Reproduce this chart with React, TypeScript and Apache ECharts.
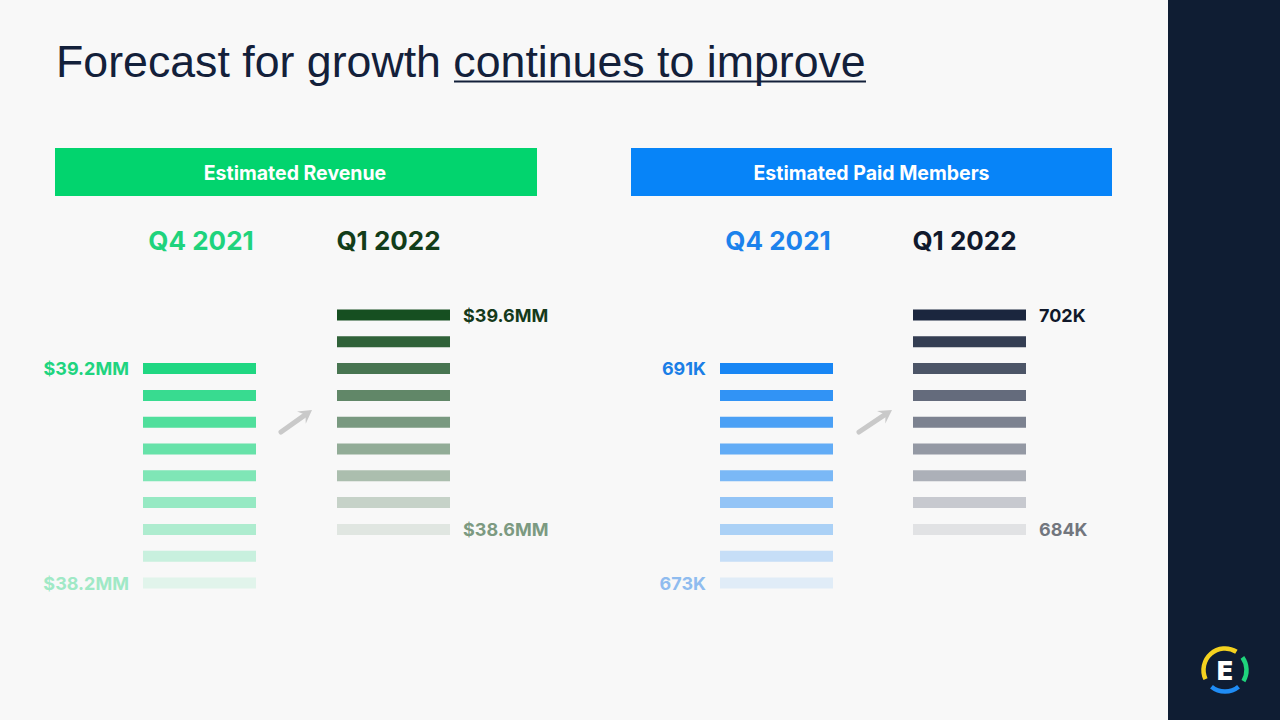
import React, { useEffect, useRef } from "react";
import * as echarts from "echarts";

// ---- data ----
const periods = ["Q4 2021", "Q1 2022"];
// stacked level rows (row index on the level axis, top bar first)
const q4Levels = [8, 7, 6, 5, 4, 3, 2, 1, 0];
const q1Levels = [10, 9, 8, 7, 6, 5, 4, 3, 2];
const shadeOpacity = [1, 0.89, 0.78, 0.67, 0.56, 0.45, 0.34, 0.22, 0.1];
const revenueHigh = [39.2, 39.6]; // $MM
const revenueLow = [38.2, 38.6]; // $MM
const membersHigh = [691, 702]; // K
const membersLow = [673, 684]; // K

// ---- styles ----
const FONT = "Inter, 'Noto Sans', sans-serif";
const revenueBar = ["#20d782", "#164f21"];
const revenueHighColor = ["#20d47f", "#153a1b"];
const revenueLowColor = ["#a0e9c6", "#7c9a81"];
const revenuePeriodColor = ["#1fd37d", "#123d1a"];
const membersBar = ["#1886f4", "#1b263e"];
const membersHighColor = ["#1a7ee6", "#10182a"];
const membersLowColor = ["#8fbcef", "#72767e"];
const membersPeriodColor = ["#1c82ec", "#111a2d"];

function rgba(hex: string, a: number) {
  const n = parseInt(hex.slice(1), 16);
  return `rgba(${(n >> 16) & 255},${(n >> 8) & 255},${n & 255},${a})`;
}

function stack(
  grid: number,
  cat: number,
  levels: number[],
  base: string,
  highText: string,
  lowText: string,
  highColor: string,
  lowColor: string
) {
  const side = cat === 0 ? "left" : "right";
  return {
    type: "scatter",
    xAxisIndex: grid,
    yAxisIndex: grid,
    symbol: "rect",
    symbolSize: [113, 11],
    clip: false,
    silent: true,
    itemStyle: { opacity: 1 },
    data: levels.map((lv, i) => {
      const edge = i === 0 || i === levels.length - 1;
      return {
        value: [cat, lv],
        itemStyle: { color: rgba(base, shadeOpacity[i]), opacity: 1 },
        label: edge
          ? {
              show: true,
              position: side,
              distance: cat === 0 ? 14 : 13,
              formatter: i === 0 ? highText : lowText,
              color: i === 0 ? highColor : lowColor,
              opacity: 1,
              fontFamily: FONT,
              fontWeight: "bold",
              fontSize: 18,
            }
          : { show: false },
      };
    }),
  };
}

function periodAxis(grid: number, colors: string[]) {
  return {
    type: "category",
    gridIndex: grid,
    data: periods,
    position: "top",
    boundaryGap: true,
    axisLine: { show: false },
    axisTick: { show: false },
    splitLine: { show: false },
    axisLabel: {
      margin: 61,
      verticalAlign: "middle",
      formatter: (v: string, i: number) => `{c${i}|${v}}`,
      rich: {
        c0: { color: colors[0], fontFamily: FONT, fontWeight: "bold", fontSize: 26, padding: [0, 0, 0, 3] },
        c1: { color: colors[1], fontFamily: FONT, fontWeight: "bold", fontSize: 26, padding: [0, 10, 0, 0] },
      },
    },
  };
}

function arrow(tail: number[], tip: number[]) {
  const dx = tip[0] - tail[0];
  const dy = tip[1] - tail[1];
  const len = Math.hypot(dx, dy);
  const ux = dx / len, uy = dy / len;
  const px = -uy, py = ux;
  const headLen = 13, half = 7.5, notch = 8;
  const shaftEnd = [tip[0] - ux * notch, tip[1] - uy * notch];
  const wingBase = [tip[0] - ux * headLen, tip[1] - uy * headLen];
  return [
    {
      type: "line",
      shape: { x1: tail[0], y1: tail[1], x2: shaftEnd[0], y2: shaftEnd[1] },
      style: { stroke: "#c9c9c9", lineWidth: 5, lineCap: "round" },
    },
    {
      type: "polygon",
      shape: {
        points: [
          tip,
          [wingBase[0] + px * half, wingBase[1] + py * half],
          shaftEnd,
          [wingBase[0] - px * half, wingBase[1] - py * half],
        ],
      },
      style: { fill: "#c9c9c9" },
    },
  ];
}

export default function App() {
  const ref = useRef<HTMLDivElement>(null);
  useEffect(() => {
    if (!ref.current) return;
    const chart = echarts.init(ref.current, undefined, { renderer: "svg" });
    const deg = Math.PI / 180;
    chart.setOption({
      animation: false,
      backgroundColor: "#f8f8f8",
      grid: [
        { left: 102.5, width: 388, top: 301.6, height: 294.8 },
        { left: 680, width: 386, top: 301.6, height: 294.8 },
      ],
      xAxis: [periodAxis(0, revenuePeriodColor), periodAxis(1, membersPeriodColor)],
      yAxis: [
        { type: "value", gridIndex: 0, min: -0.5, max: 10.5, show: false },
        { type: "value", gridIndex: 1, min: -0.5, max: 10.5, show: false },
      ],
      series: [
        stack(0, 0, q4Levels, revenueBar[0], `$${revenueHigh[0].toFixed(1)}MM`, `$${revenueLow[0].toFixed(1)}MM`, revenueHighColor[0], revenueLowColor[0]),
        stack(0, 1, q1Levels, revenueBar[1], `$${revenueHigh[1].toFixed(1)}MM`, `$${revenueLow[1].toFixed(1)}MM`, revenueHighColor[1], revenueLowColor[1]),
        stack(1, 0, q4Levels, membersBar[0], `${membersHigh[0]}K`, `${membersLow[0]}K`, membersHighColor[0], membersLowColor[0]),
        stack(1, 1, q1Levels, membersBar[1], `${membersHigh[1]}K`, `${membersLow[1]}K`, membersHighColor[1], membersLowColor[1]),
      ],
      graphic: [
        { type: "rect", shape: { x: 1168, y: 0, width: 112, height: 720 }, style: { fill: "#0f1d33" } },
        {
          type: "text",
          x: 56,
          y: 61,
          style: {
            text: "Forecast for growth continues to improve",
            font: "44.7px 'Liberation Sans', Arial, sans-serif",
            fill: "#13203a",
            verticalAlign: "middle",
            align: "left",
          },
        },
        { type: "line", shape: { x1: 454, y1: 81.5, x2: 866, y2: 81.5 }, style: { stroke: "#13203a", lineWidth: 2 } },
        { type: "rect", shape: { x: 55, y: 148, width: 482, height: 48 }, style: { fill: "#02d46e" } },
        { type: "rect", shape: { x: 631, y: 148, width: 481, height: 48 }, style: { fill: "#0784f8" } },
        {
          type: "text",
          x: 295,
          y: 173,
          style: { text: "Estimated Revenue", fontFamily: FONT, fontWeight: "bold", fontSize: 19.5, fill: "#ffffff", align: "center", verticalAlign: "middle" },
        },
        {
          type: "text",
          x: 871.5,
          y: 173,
          style: { text: "Estimated Paid Members", fontFamily: FONT, fontWeight: "bold", fontSize: 19.5, fill: "#ffffff", align: "center", verticalAlign: "middle" },
        },
        ...arrow([281, 432], [312, 410]),
        ...arrow([859, 432], [892, 410]),
        // logo
        { type: "arc", shape: { cx: 1225, cy: 670, r: 21.5, startAngle: 155 * deg, endAngle: 302 * deg, clockwise: true }, style: { stroke: "#f4d21f", lineWidth: 4.5, fill: "none" } },
        { type: "arc", shape: { cx: 1225, cy: 670, r: 21.5, startAngle: 324 * deg, endAngle: 391 * deg, clockwise: true }, style: { stroke: "#1fd47c", lineWidth: 4.5, fill: "none" } },
        { type: "arc", shape: { cx: 1225, cy: 670, r: 21.5, startAngle: 51 * deg, endAngle: 129 * deg, clockwise: true }, style: { stroke: "#1f8cf5", lineWidth: 4.5, fill: "none" } },
        {
          type: "text",
          x: 1225,
          y: 670,
          style: { text: "E", fontFamily: FONT, fontWeight: 900, fontSize: 26, fill: "#ffffff", align: "center", verticalAlign: "middle" },
        },
      ],
    });
    return () => chart.dispose();
  }, []);
  return <div ref={ref} style={{ position: "fixed", left: 0, top: 0, width: 1280, height: 720 }} />;
}
